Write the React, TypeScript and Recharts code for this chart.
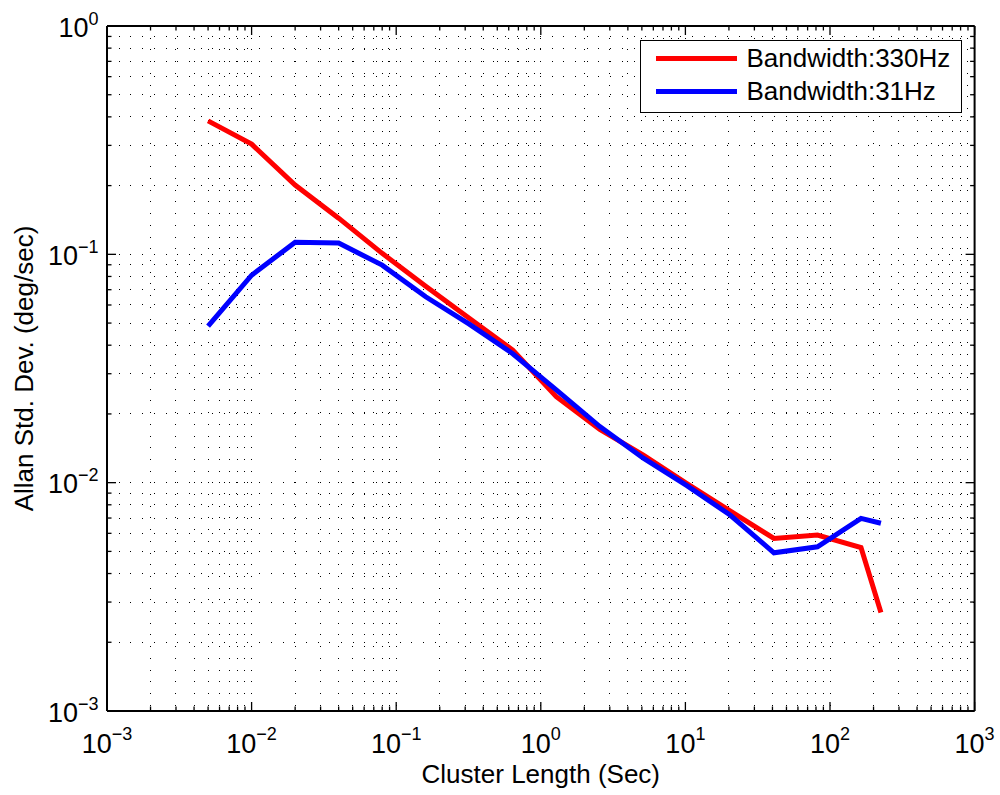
import { LineChart, Line, XAxis, YAxis, CartesianGrid, Legend } from "recharts";

// cluster lengths (s) and Allan deviation (deg/sec) for both filter settings
const clusterLength = [
  0.005, 0.01, 0.02, 0.04, 0.08, 0.16, 0.32, 0.64, 1.28, 2.56, 5.12, 10.24, 20.48, 40.96, 81.92, 163.84, 225,
];
const bw330 = [
  0.384, 0.304, 0.201, 0.144, 0.101, 0.0724, 0.0525, 0.0381, 0.0238, 0.0171, 0.0132, 0.0099, 0.0075, 0.0057,
  0.0059, 0.0052, 0.0027,
];
const bw31 = [
  0.0485, 0.081, 0.113, 0.112, 0.0897, 0.0652, 0.0495, 0.0367, 0.0255, 0.0176, 0.0128, 0.0097, 0.0072, 0.00493,
  0.00524, 0.00698, 0.00664,
];
const seriesNames = ["Bandwidth:330Hz", "Bandwidth:31Hz"];

const xDecades = [-3, -2, -1, 0, 1, 2, 3];
const yDecades = [-3, -2, -1, 0];
const minorSteps = [1, 2, 3, 4, 5, 6, 7, 8, 9];

const FONT = '"Liberation Sans", Arial, Helvetica, sans-serif';

const rows = clusterLength.map((t, i) => ({ t, bw330: bw330[i], bw31: bw31[i] }));

// major + minor ticks for a log axis spanning the given decades
function logTicks(decades: number[]) {
  const out: number[] = [];
  for (let i = 0; i < decades.length - 1; i++) {
    for (const m of minorSteps) out.push(m * Math.pow(10, decades[i]));
  }
  out.push(Math.pow(10, decades[decades.length - 1]));
  return out;
}
const xTicks = logTicks(xDecades);
const yTicks = logTicks(yDecades);

const isMajor = (v: number) => {
  const l = Math.log10(v);
  return Math.abs(l - Math.round(l)) < 1e-9;
};
const expText = (v: number) => {
  const e = Math.round(Math.log10(v));
  return e < 0 ? "\u2212" + Math.abs(e) : String(e);
};

const tickLen = (v: number) => (isMajor(v) ? 9 : 4.5);

function BottomTick(props: any) {
  const { x, y, payload } = props;
  const v = payload.value;
  return (
    <g>
      <line x1={x} x2={x} y1={y} y2={y - tickLen(v)} stroke="#000" strokeWidth={1.3} />
      {isMajor(v) && (
        <text x={x} y={y + 42} textAnchor="middle" fontSize={27} fontFamily={FONT} fill="#000">
          10
          <tspan dy={-13} fontSize={18}>
            {expText(v)}
          </tspan>
        </text>
      )}
    </g>
  );
}

function TopTick(props: any) {
  const { x, y, payload } = props;
  return <line x1={x} x2={x} y1={y} y2={y + tickLen(payload.value)} stroke="#000" strokeWidth={1.3} />;
}

function LeftTick(props: any) {
  const { x, y, payload } = props;
  const v = payload.value;
  return (
    <g>
      <line x1={x} x2={x + tickLen(v)} y1={y} y2={y} stroke="#000" strokeWidth={1.3} />
      {isMajor(v) && (
        <text x={x - 8.5} y={y + 10.7} textAnchor="end" fontSize={27} fontFamily={FONT} fill="#000">
          10
          <tspan dy={-12} fontSize={18}>
            {expText(v)}
          </tspan>
        </text>
      )}
    </g>
  );
}

function RightTick(props: any) {
  const { x, y, payload } = props;
  return <line x1={x} x2={x - tickLen(payload.value)} y1={y} y2={y} stroke="#000" strokeWidth={1.3} />;
}

function LegendBox(props: any) {
  const items = [...(props.payload || [])].sort(
    (a: any, b: any) => seriesNames.indexOf(a.value) - seriesNames.indexOf(b.value)
  );
  return (
    <div
      style={{
        width: 322,
        height: 73,
        boxSizing: "border-box",
        border: "1.5px solid #000",
        background: "#fff",
        paddingTop: 1.3,
        fontFamily: FONT,
        fontSize: 26,
        color: "#000",
      }}
    >
      {items.map((it: any) => (
        <div key={it.value} style={{ display: "flex", alignItems: "center", height: 33, lineHeight: "33px" }}>
          <span style={{ display: "inline-block", marginLeft: 15, width: 81, height: 5, background: it.color }} />
          <span style={{ marginLeft: 9.5, whiteSpace: "nowrap" }}>{it.value}</span>
        </div>
      ))}
    </div>
  );
}

const axisLine = { stroke: "#000", strokeWidth: 2 };

export default function App() {
  return (
    <div style={{ position: "absolute", left: 0, top: 0, width: 1000, height: 795, background: "#fff" }}>
      <LineChart width={1000} height={795} data={rows} margin={{ top: 0, right: 0, bottom: 0, left: 0 }}>
        {/* dotted major + minor grid */}
        <CartesianGrid stroke="#000" strokeWidth={1} strokeDasharray="1 10.7" shapeRendering="crispEdges" />
        <XAxis
          dataKey="t"
          type="number"
          scale="log"
          domain={[0.001, 1000]}
          allowDataOverflow
          ticks={xTicks}
          interval={0}
          height={84}
          tickSize={0}
          tickMargin={0}
          axisLine={axisLine}
          tickLine={false}
          tick={<BottomTick />}
          label={{
            value: "Cluster Length (Sec)",
            position: "insideBottom",
            offset: 12,
            style: { fontSize: 26, fontFamily: FONT, fill: "#000" },
          }}
        />
        <XAxis
          xAxisId="top"
          orientation="top"
          dataKey="t"
          type="number"
          scale="log"
          domain={[0.001, 1000]}
          allowDataOverflow
          ticks={xTicks}
          interval={0}
          height={26}
          tickSize={0}
          tickMargin={0}
          axisLine={axisLine}
          tickLine={false}
          tick={<TopTick />}
        />
        <YAxis
          type="number"
          scale="log"
          domain={[0.001, 1]}
          allowDataOverflow
          ticks={yTicks}
          interval={0}
          width={107}
          tickSize={0}
          tickMargin={0}
          axisLine={axisLine}
          tickLine={false}
          tick={<LeftTick />}
          label={{
            value: "Allan Std. Dev. (deg/sec)",
            angle: -90,
            position: "insideLeft",
            offset: 23.5,
            style: { fontSize: 26, fontFamily: FONT, fill: "#000", textAnchor: "middle" },
          }}
        />
        <YAxis
          yAxisId="right"
          orientation="right"
          type="number"
          scale="log"
          domain={[0.001, 1]}
          allowDataOverflow
          ticks={yTicks}
          interval={0}
          width={25.4}
          tickSize={0}
          tickMargin={0}
          axisLine={axisLine}
          tickLine={false}
          tick={<RightTick />}
        />
        <Legend
          layout="horizontal"
          verticalAlign="middle"
          align="center"
          wrapperStyle={{ top: 40, left: 640, width: 322 }}
          content={<LegendBox />}
        />
        <Line
          type="linear"
          dataKey="bw330"
          name={seriesNames[0]}
          stroke="#ff0000"
          strokeWidth={5}
          dot={false}
          isAnimationActive={false}
        />
        <Line
          type="linear"
          dataKey="bw31"
          name={seriesNames[1]}
          stroke="#0000ff"
          strokeWidth={5}
          dot={false}
          isAnimationActive={false}
        />
      </LineChart>
    </div>
  );
}
